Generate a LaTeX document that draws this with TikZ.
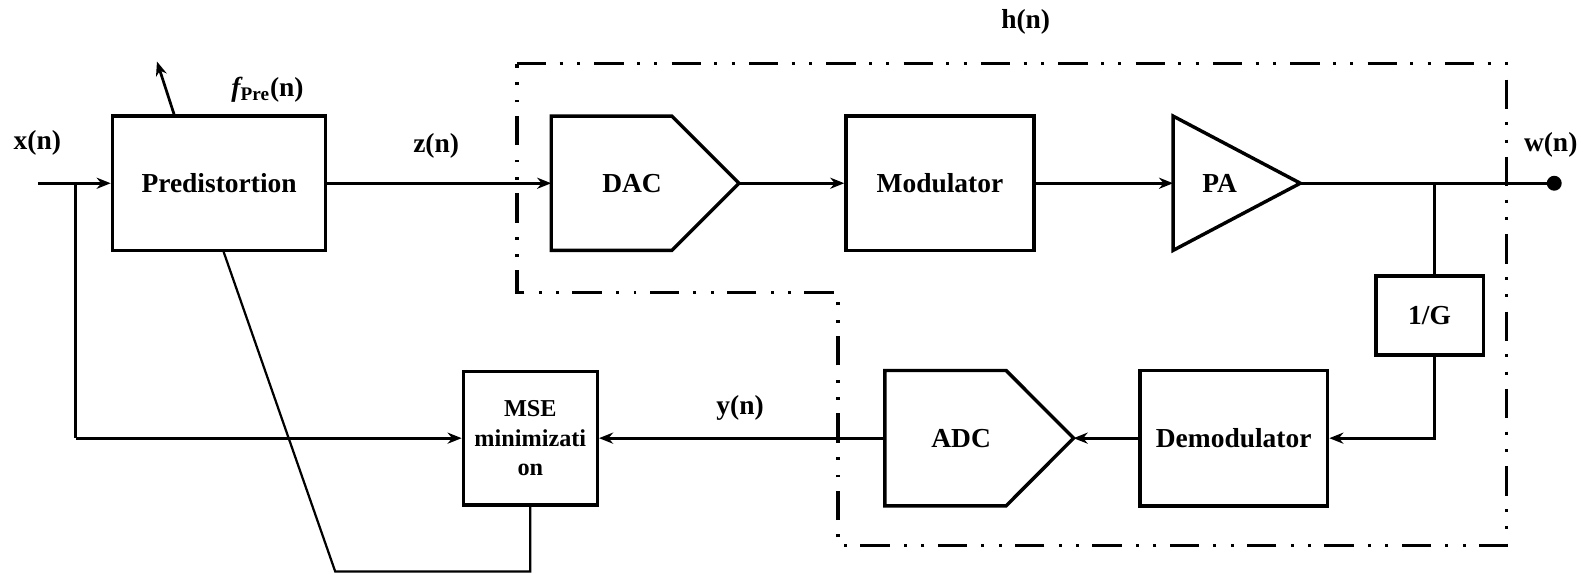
\documentclass[tikz,border=0pt]{standalone}
\usepackage{fontspec}
\setmainfont{Liberation Serif}
\usetikzlibrary{arrows.meta}
\begin{document}
\begin{tikzpicture}[x=0.5pt,y=-0.5pt,
  box/.style={draw,line width=1.7pt,inner sep=0pt,font=\fontsize{13.6}{15}\selectfont\bfseries},
  shapeline/.style={draw,line width=1.7pt,line join=miter},
  lbl/.style={font=\fontsize{13.6}{15}\selectfont\bfseries,inner sep=0pt},
  wire/.style={line width=1.35pt},
  arr/.style={wire,-{Stealth[length=7pt,width=5.5pt]}},
  hbord/.style={line width=1.6pt,dash pattern=on 14.6pt off 6.6pt on 1.4pt off 7.2pt on 1.4pt off 7.1pt}]
\useasboundingbox (0,0) rectangle (1568,568);

% h(n) region border
\draw[hbord] (512,63) -- (1492,63) -- (1492,540.5) -- (830,540.5) -- (830,289.5) -- (512,289.5) -- cycle;

% blocks
\node[box,minimum width=105.6pt,minimum height=66.5pt] (pre) at (217,181.5) {Predistortion};
\draw[shapeline] (546,115) -- (665.5,115) -- (732,181.5) -- (665.5,248) -- (546,248) -- cycle;
\node[lbl] (dac) at (626,181.5) {DAC};
\coordinate (dacin) at (546,181.5);
\coordinate (dacout) at (732,181.5);
\node[box,minimum width=93pt,minimum height=66.5pt] (mod) at (931,181.5) {Modulator};
\draw[shapeline] (1162,115) -- (1288,181.5) -- (1162,248) -- cycle;
\node[lbl] (pa) at (1208,181.5) {PA};
\coordinate (pain) at (1162,181.5);
\coordinate (paout) at (1288,181.5);
\node[box,minimum width=53.2pt,minimum height=39pt] (oneG) at (1416,312.5) {1/G};
\node[box,minimum width=93pt,minimum height=67pt] (demod) at (1222,434) {Demodulator};
\draw[shapeline] (876.5,367) -- (996.6,367) -- (1063.4,434) -- (996.6,501) -- (876.5,501) -- cycle;
\node[lbl] (adc) at (952,434) {ADC};
\coordinate (adcin) at (876.5,434);
\coordinate (adcout) at (1063.4,434);
\node[box,minimum width=66.3pt,minimum height=66pt,align=center,font=\fontsize{12}{14.5}\selectfont\bfseries] (mse) at (525.3,434) {MSE\\minimizati\\on};

% connectors
\coordinate (xin) at (37.5,181.5);
\coordinate (br) at (75,181.5);
\draw[arr] (xin) -- (pre.west);
\draw[wire] (br) -- (br |- mse.west);
\draw[arr] (br |- mse.west) -- (mse.west);
\draw[arr] (pre.east) -- (dacin);
\draw[arr] (dacout) -- (mod.west);
\draw[arr] (mod.east) -- (pain);
\coordinate (wout) at (1539.5,181.5);
\draw[wire] (paout) -- (wout);
\fill (wout) circle (3.7pt);
\coordinate (jn) at (1421,181.5);
\draw[wire] (jn) -- (jn |- oneG.north);
\draw[arr] (jn |- oneG.south) |- (demod.east);
\draw[arr] (demod.west) -- (adcout);
\draw[arr] (adcin) -- (mse.east);
\coordinate (bl) at (332,566);
\coordinate (pb) at (221,248);
\draw[line width=1.1pt] (mse.south) |- (bl) -- (pb);
\coordinate (ptop) at (173,115);
\coordinate (pup) at (155.5,61);
\draw[arr] (ptop) -- (pup);

% labels
\node[lbl] (xl) at (37,142) {x(n)};
\node[lbl] (fl) at (265,89) {{\itshape f}\textsubscript{Pre}(n)};
\node[lbl] (zl) at (432,144.6) {z(n)};
\node[lbl] (hl) at (1016,21.5) {h(n)};
\node[lbl] (wl) at (1536,143.6) {w(n)};
\node[lbl] (yl) at (733,404) {y(n)};
\end{tikzpicture}
\end{document}
